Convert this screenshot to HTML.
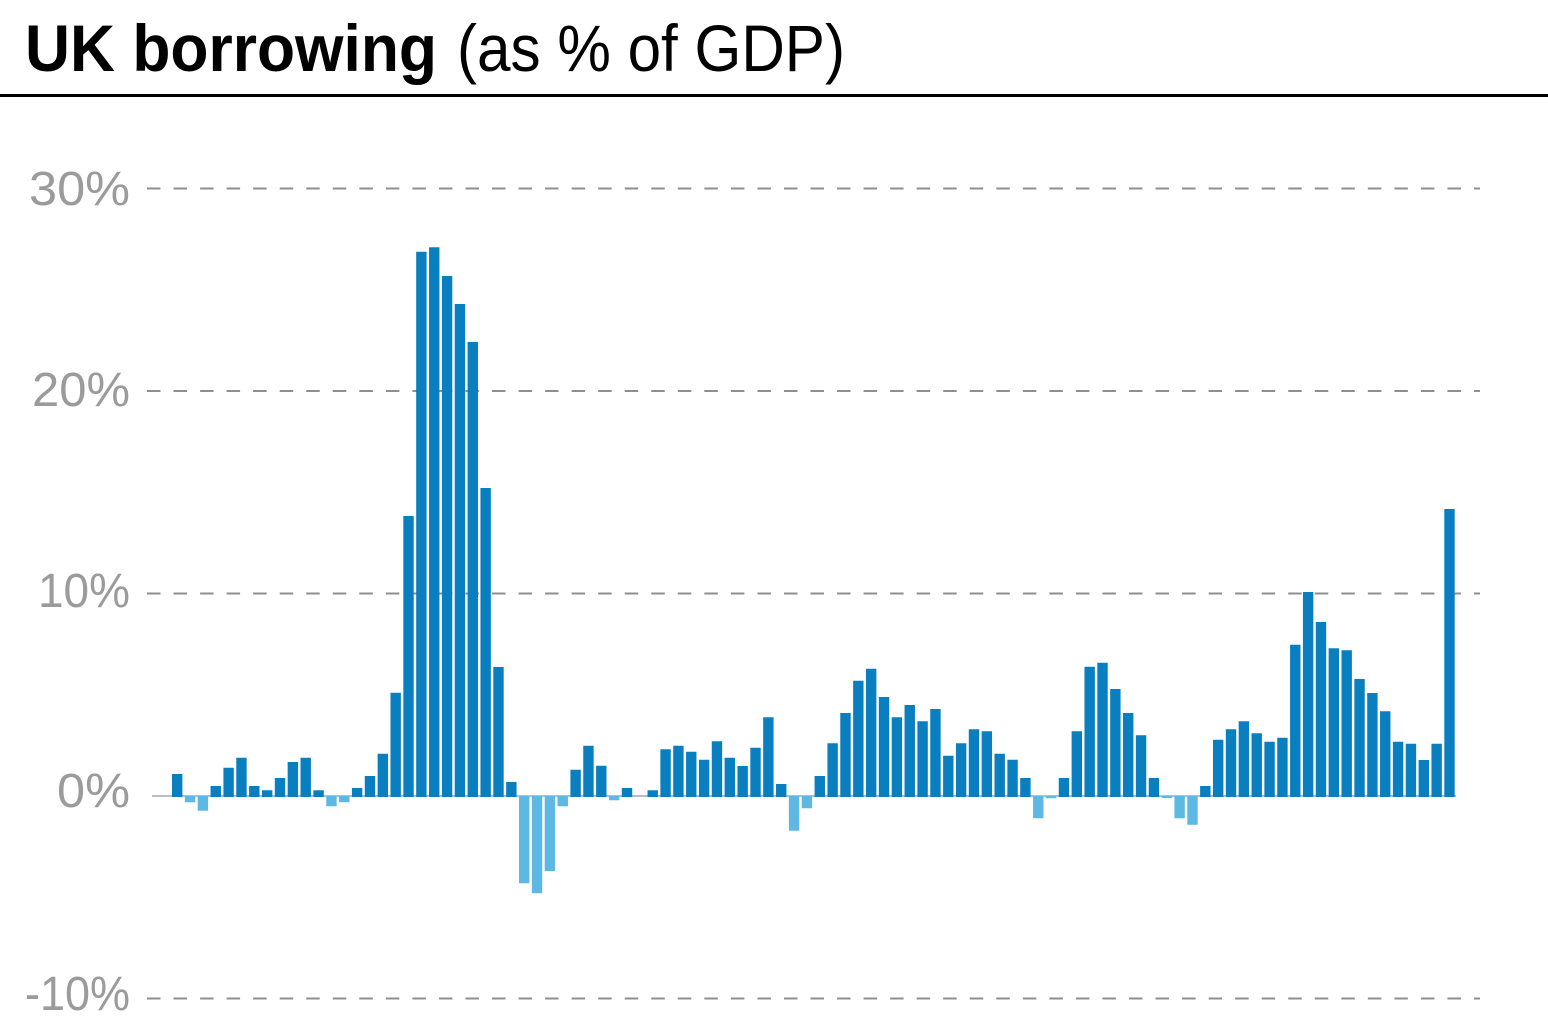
<!DOCTYPE html>
<html>
<head>
<meta charset="utf-8">
<style>
html,body{margin:0;padding:0;background:#fff}
svg{display:block}
</style>
</head>
<body>
<svg width="1548" height="1032" viewBox="0 0 1548 1032" xmlns="http://www.w3.org/2000/svg">
<rect x="0" y="0" width="1548" height="1032" fill="#fff"/>
<text x="25" y="71" font-family="'Liberation Sans', sans-serif" font-weight="bold" font-size="66" fill="#000" textLength="412" lengthAdjust="spacingAndGlyphs">UK borrowing</text>
<text x="457" y="71" font-family="'Liberation Sans', sans-serif" font-size="66" fill="#000" textLength="388" lengthAdjust="spacingAndGlyphs">(as % of GDP)</text>
<rect x="0" y="94" width="1548" height="3" fill="#000"/>
<path d="M147 188.5H1480M147 391H1480M147 593.5H1480M147 998.5H1480" stroke="#8f8f8f" stroke-width="2" stroke-dasharray="13.5 13.04" fill="none"/>
<line x1="152" y1="796" x2="1456" y2="796" stroke="#bdbdbd" stroke-width="2"/>
<g font-family="'Liberation Sans', sans-serif" font-size="48" fill="#9b9b9b" text-anchor="end">
<text x="130" y="205" textLength="101" lengthAdjust="spacingAndGlyphs">30%</text>
<text x="130" y="406" textLength="98" lengthAdjust="spacingAndGlyphs">20%</text>
<text x="130" y="607" textLength="92" lengthAdjust="spacingAndGlyphs">10%</text>
<text x="130" y="807" textLength="73" lengthAdjust="spacingAndGlyphs">0%</text>
<text x="130" y="1010" textLength="105" lengthAdjust="spacingAndGlyphs">-10%</text>
</g>
<path fill="#0a7fc0" d="
M172.00 774h10.4V797h-10.4z M210.55 786h10.4V797h-10.4z M223.41 767.7h10.4V797h-10.4z
M236.26 757.7h10.4V797h-10.4z M249.11 786h10.4V797h-10.4z M261.96 790.3h10.4V797h-10.4z
M274.81 778h10.4V797h-10.4z M287.66 762h10.4V797h-10.4z M300.52 757.7h10.4V797h-10.4z
M313.37 790.3h10.4V797h-10.4z M351.92 788h10.4V797h-10.4z M364.77 776h10.4V797h-10.4z
M377.62 753.7h10.4V797h-10.4z M390.48 692.7h10.4V797h-10.4z M403.33 516h10.4V797h-10.4z
M416.18 251.7h10.4V797h-10.4z M429.03 247.3h10.4V797h-10.4z M441.88 276h10.4V797h-10.4z
M454.73 304h10.4V797h-10.4z M467.58 342h10.4V797h-10.4z M480.44 488h10.4V797h-10.4z
M493.29 667h10.4V797h-10.4z M506.14 782h10.4V797h-10.4z M570.40 769.7h10.4V797h-10.4z
M583.25 745.7h10.4V797h-10.4z M596.10 765.7h10.4V797h-10.4z M621.80 788h10.4V797h-10.4z
M647.51 790.3h10.4V797h-10.4z M660.36 749.3h10.4V797h-10.4z M673.21 745.7h10.4V797h-10.4z
M686.06 751.7h10.4V797h-10.4z M698.91 759.7h10.4V797h-10.4z M711.76 741.3h10.4V797h-10.4z
M724.61 757.7h10.4V797h-10.4z M737.47 766h10.4V797h-10.4z M750.32 747.7h10.4V797h-10.4z
M763.17 717.3h10.4V797h-10.4z M776.02 784h10.4V797h-10.4z M814.58 776h10.4V797h-10.4z
M827.43 743.3h10.4V797h-10.4z M840.28 713h10.4V797h-10.4z M853.13 680.7h10.4V797h-10.4z
M865.98 668.7h10.4V797h-10.4z M878.83 697h10.4V797h-10.4z M891.68 717.3h10.4V797h-10.4z
M904.54 705h10.4V797h-10.4z M917.39 721.3h10.4V797h-10.4z M930.24 709h10.4V797h-10.4z
M943.09 755.7h10.4V797h-10.4z M955.94 743.3h10.4V797h-10.4z M968.79 729.3h10.4V797h-10.4z
M981.64 731.3h10.4V797h-10.4z M994.50 753.7h10.4V797h-10.4z M1007.35 759.7h10.4V797h-10.4z
M1020.20 778h10.4V797h-10.4z M1058.75 778h10.4V797h-10.4z M1071.61 731.3h10.4V797h-10.4z
M1084.46 666.7h10.4V797h-10.4z M1097.31 662.7h10.4V797h-10.4z M1110.16 689h10.4V797h-10.4z
M1123.01 713h10.4V797h-10.4z M1135.86 735.3h10.4V797h-10.4z M1148.71 778h10.4V797h-10.4z
M1200.12 786h10.4V797h-10.4z M1212.97 739.7h10.4V797h-10.4z M1225.82 729.3h10.4V797h-10.4z
M1238.67 721.3h10.4V797h-10.4z M1251.53 733.3h10.4V797h-10.4z M1264.38 741.7h10.4V797h-10.4z
M1277.23 737.7h10.4V797h-10.4z M1290.08 644.7h10.4V797h-10.4z M1302.93 592h10.4V797h-10.4z
M1315.78 622h10.4V797h-10.4z M1328.64 648.3h10.4V797h-10.4z M1341.49 650.3h10.4V797h-10.4z
M1354.34 679h10.4V797h-10.4z M1367.19 693h10.4V797h-10.4z M1380.04 711.3h10.4V797h-10.4z
M1392.89 741.7h10.4V797h-10.4z M1405.74 743.7h10.4V797h-10.4z M1418.60 760h10.4V797h-10.4z
M1431.45 743.7h10.4V797h-10.4z M1444.30 509h10.4V797h-10.4z"/>
<path fill="#5db8e3" d="
M184.85 796h10.4v6.3h-10.4z M197.70 796h10.4v14.7h-10.4z M326.22 796h10.4v10.3h-10.4z
M339.07 796h10.4v6.3h-10.4z M518.99 796h10.4v87.3h-10.4z M531.84 796h10.4v97.3h-10.4z
M544.69 796h10.4v75h-10.4z M557.55 796h10.4v10.3h-10.4z M608.95 796h10.4v4.3h-10.4z
M788.87 796h10.4v34.7h-10.4z M801.72 796h10.4v12.3h-10.4z M1033.05 796h10.4v22.3h-10.4z
M1045.90 796h10.4v2.3h-10.4z M1161.57 796h10.4v2h-10.4z M1174.42 796h10.4v22.3h-10.4z
M1187.27 796h10.4v28.7h-10.4z"/>
</svg>
</body>
</html>
